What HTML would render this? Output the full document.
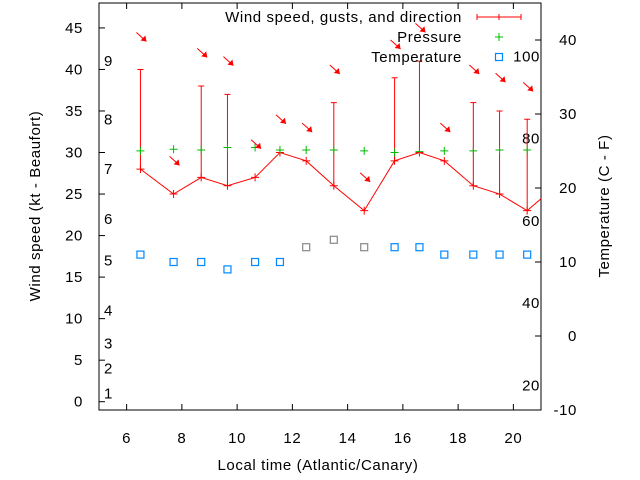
<!DOCTYPE html>
<html><head><meta charset="utf-8"><style>
body{margin:0;background:#fff;}
svg{display:block;font-family:"Liberation Sans",sans-serif;}
</style></head><body>
<svg id="c" width="640" height="480"></svg>
<script>
const times=[6.5,7.7,8.7,9.65,10.65,11.55,12.5,13.5,14.6,15.7,16.6,17.5,18.55,19.5,20.5,21.2];
const wind=[28,25,27,26,27,30,29,26,23,29,30,29,26,25,23,25];
const gusts=[40,null,38,37,null,null,null,36,null,39,41,null,36,35,34,null];
const pressure=[30.2,30.4,30.3,30.6,30.6,30.3,30.3,30.3,30.2,30.0,30.1,30.2,30.2,30.3,30.3];
const tempC=[11,10,10,9,10,10,12,13,12,12,12,11,11,11,11];
const arrowY=[43.9,29,42,41,31,34,33,40,27,43,45,33,40,39,37.9];
const xTicks=[6,8,10,12,14,16,18,20];
const yTicks=[0,5,10,15,20,25,30,35,40,45];
const y2Ticks=[-10,0,10,20,30,40];
const beaufort=[[1,1],[2,4],[3,7],[4,11],[5,17],[6,22],[7,28],[8,34],[9,41]];
const fahr=[20,40,60,80,100];

const L=99,R=541,T=3,B=410;
const X=v=>L+(v-5)/16*(R-L);
const Y=v=>B-(v+1)/49*(B-T);
const Y2=v=>B-(v+10)/55*(B-T);
const svg=document.getElementById('c');
const NS='http://www.w3.org/2000/svg';
function el(t,a,p){const e=document.createElementNS(NS,t);for(const k in a)e.setAttribute(k,a[k]);(p||svg).appendChild(e);return e;}
function txt(x,y,s,anchor,name,extra){const e=el('text',Object.assign({x:x,y:y,'font-size':15,'letter-spacing':0.6,'text-anchor':anchor||'middle',fill:'#000'},extra||{}));e.textContent=s;return e;}

const frame=el('rect',{x:L,y:T,width:R-L,height:B-T,fill:'none',stroke:'#000','stroke-width':1});



xTicks.forEach(v=>{
  const t=el('path',{d:`M${X(v)},${B}v-6M${X(v)},${T}v6`,stroke:'#000'});
  
  
  txt(X(v),B+33,String(v),'middle','x-tick-label');
});
yTicks.forEach(v=>{
  const t=el('path',{d:`M${L},${Y(v)}h6`,stroke:'#000'});
  
  
  txt(L-16,Y(v)+5,String(v),'end','y-tick-label');
});
y2Ticks.forEach(v=>{
  const t=el('path',{d:`M${R},${Y2(v)}h-6`,stroke:'#000'});
  
  
  txt(R+36,Y2(v)+5,String(v),'end','y2-tick-label');
});
beaufort.forEach(b=>{txt(104,Y(b[1])+5,String(b[0]),'start','beaufort-label');});
fahr.forEach(f=>{txt(540,Y2((f-32)*5/9)+5,String(f),'end','fahrenheit-label');});

let d='';
times.forEach((t,i)=>{
  let x=X(t),y=Y(wind[i]);
  if(x>R){const x0=X(times[i-1]),y0=Y(wind[i-1]);y=y0+(y-y0)*(R-x0)/(x-x0);x=R;}
  d+=(i?'L':'M')+x+','+y;
});
const ln=el('path',{d:d,fill:'none',stroke:'#f00','stroke-width':1});


times.forEach((t,i)=>{
  if(X(t)>R)return;
  const x=X(t),y=Y(wind[i]);
  const p=el('path',{d:`M${x-4},${y}h8M${x},${y-4}v8`,stroke:'#f00'});
  
  
  if(gusts[i]!=null){
    const g=Y(gusts[i]);
    const b=el('path',{d:`M${x},${y}V${g}M${x-3},${g}h6`,stroke:'#f00'});
    
    
  }
});
pressure.forEach((v,i)=>{
  const x=X(times[i]),y=Y(v);
  const p=el('path',{d:`M${x-4},${y}h8M${x},${y-4}v8`,stroke:'#0b0'});
  
  
});
tempC.forEach((v,i)=>{
  const x=X(times[i]),y=Y2(v);
  const gray=(i>=6&&i<=8);
  const p=el('rect',{x:x-3.5,y:y-3.5,width:7,height:7,fill:'none',stroke:gray?'#888':'#08f','stroke-width':1.2});
  
  
});
arrowY.forEach((v,i)=>{
  const cx=X(times[i])+1,cy=Y(v);
  const x1=cx-5,y1=cy-4.5,x2=cx+5,y2=cy+4.5;
  const g=el('g',{});
  
  
  el('line',{x1:x1,y1:y1,x2:x2,y2:y2,stroke:'#f00'},g);
  el('polygon',{points:`${x2},${y2} ${x2-6},${y2-1} ${x2-1},${y2-6}`,fill:'#f00'},g);
});

txt(462,22,'Wind speed, gusts, and direction','end','legend-wind-label');
const lw=el('path',{d:'M477,17h44M477,14v6M521,14v6M499,14v6',stroke:'#f00'});


txt(462,42,'Pressure','end','legend-pressure-label');
const lp=el('path',{d:'M495,37h8M499,33v8',stroke:'#0b0'});


txt(462,62,'Temperature','end','legend-temperature-label');
const lt=el('rect',{x:495.5,y:53.5,width:7,height:7,fill:'none',stroke:'#08f','stroke-width':1.2});



txt(318,470,'Local time (Atlantic/Canary)','middle','x-axis-title');
txt(0,0,'Wind speed (kt - Beaufort)','middle','y-axis-title',{transform:'translate(40,206) rotate(-90)'});
txt(0,0,'Temperature (C - F)','middle','y2-axis-title',{transform:'translate(609,206) rotate(-90)'});
</script>
</body></html>
